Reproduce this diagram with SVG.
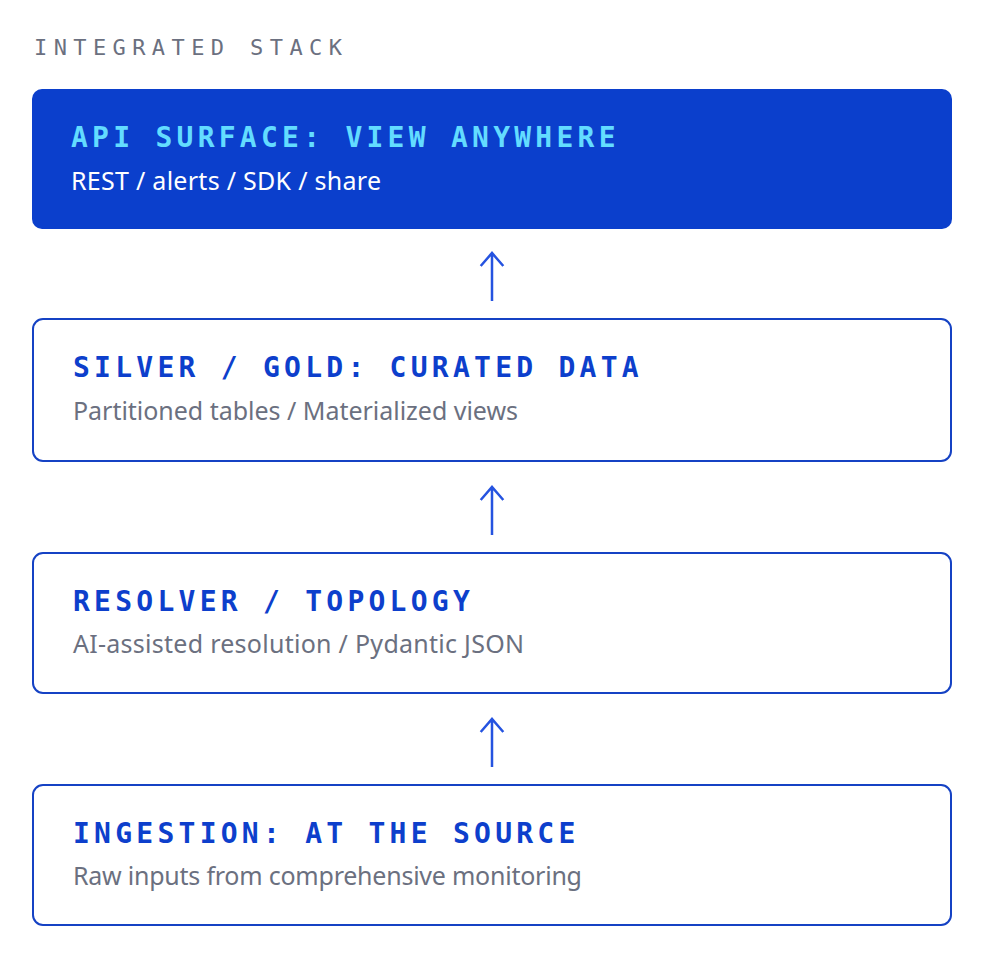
<svg xmlns="http://www.w3.org/2000/svg" width="984" height="958" viewBox="0 0 984 958">
  <style>
    .label { font-family: "DejaVu Sans Mono", "Liberation Mono", monospace; font-size: 22px; letter-spacing: 6.4px; fill: #6b7080; }
    .head { font-family: "DejaVu Sans Mono", "Liberation Mono", monospace; font-size: 28px; font-weight: bold; letter-spacing: 4.25px; }
    .head-dark { fill: #0d3fcc; }
    .head-light { fill: #63dcff; }
    .sub { font-family: "Noto Sans", "Liberation Sans", sans-serif; font-size: 25px; }
    .sub-dark { fill: #6b7080; }
    .sub-light { fill: #ffffff; }
    .box { fill: #ffffff; stroke: #1542c4; stroke-width: 2; }
    .box-filled { fill: #0b3fcc; }
    .arrow { fill: none; stroke: #2553e0; stroke-width: 2.5; stroke-linecap: butt; stroke-linejoin: miter; }
  </style>
  <rect width="984" height="958" fill="#ffffff"/>
  <text class="label" x="34" y="55">INTEGRATED STACK</text>

  <g id="api-surface">
    <rect class="box-filled" x="32" y="89" width="920" height="140" rx="10"/>
    <text class="head head-light" x="71" y="147">API SURFACE: VIEW ANYWHERE</text>
    <text class="sub sub-light" x="71" y="190" textLength="310" lengthAdjust="spacing">REST / alerts / SDK / share</text>
  </g>

  <g id="silver-gold">
    <rect class="box" x="33" y="319" width="918" height="142" rx="10"/>
    <text class="head head-dark" x="73" y="377">SILVER / GOLD: CURATED DATA</text>
    <text class="sub sub-dark" x="73" y="420" textLength="445" lengthAdjust="spacing">Partitioned tables / Materialized views</text>
  </g>

  <g id="resolver">
    <rect class="box" x="33" y="553" width="918" height="140" rx="10"/>
    <text class="head head-dark" x="73" y="611">RESOLVER / TOPOLOGY</text>
    <text class="sub sub-dark" x="73" y="653" textLength="451" lengthAdjust="spacing">AI-assisted resolution / Pydantic JSON</text>
  </g>

  <g id="ingestion">
    <rect class="box" x="33" y="785" width="918" height="140" rx="10"/>
    <text class="head head-dark" x="73" y="843">INGESTION: AT THE SOURCE</text>
    <text class="sub sub-dark" x="73" y="885" textLength="509" lengthAdjust="spacing">Raw inputs from comprehensive monitoring</text>
  </g>

  <g id="connectors">
    <path class="arrow" d="M492 301 V253 M480.7 266 L492 253 L503.3 266"/>
    <path class="arrow" d="M492 535 V487 M480.7 500 L492 487 L503.3 500"/>
    <path class="arrow" d="M492 767 V719 M480.7 732 L492 719 L503.3 732"/>
  </g>
</svg>
